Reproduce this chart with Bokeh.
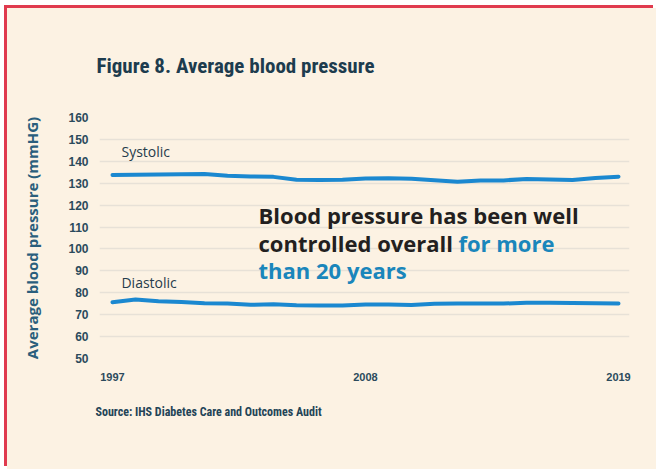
from bokeh.plotting import figure
from bokeh.models import Range1d, FixedTicker, Label, Title
from bokeh.embed import file_html
from bokeh.resources import INLINE

# ---- data ----
years = list(range(1997, 2020))
systolic = [133.8, 133.9, 134.0, 134.1, 134.2, 133.4, 133.1, 132.9, 131.6, 131.5,
            131.6, 132.2, 132.3, 132.0, 131.4, 130.7, 131.2, 131.3, 131.9, 131.7,
            131.5, 132.4, 133.0]
diastolic = [75.7, 76.9, 76.1, 75.8, 75.2, 75.1, 74.5, 74.8, 74.3, 74.2,
             74.2, 74.7, 74.7, 74.4, 75.0, 75.1, 75.1, 75.1, 75.4, 75.4,
             75.3, 75.2, 75.1]
y_ticks = list(range(50, 161, 10))
x_ticks = [1997, 2008, 2019]

title_text = "Figure 8. Average blood pressure"
source_text = "Source: IHS Diabetes Care and Outcomes Audit"
y_label = "Average blood pressure (mmHG)"

BG = "#FCF2E3"
LINE = "#1B88D0"
BLUE_TXT = "#1A86BB"
COND = "'Liberation Sans Narrow', 'Roboto Condensed', Roboto, sans-serif"
OPEN = "Open Sans"

p = figure(width=649, height=461, output_backend="svg", toolbar_location=None,
           x_range=Range1d(1996.435, 2019.478), y_range=Range1d(50, 160),
           min_border_left=92, min_border_right=27, min_border_top=109,
           min_border_bottom=111)
p.styles = {"margin-left": "7px", "margin-top": "8px",
            "width": "649px", "max-width": "649px", "height": "461px",
            "box-shadow": "-3px -3px 0 0 #E03A4E", "background-color": BG}

p.background_fill_color = BG
p.border_fill_color = BG
p.outline_line_color = None

p.title.text = title_text
p.title.align = "left"
p.title.offset = -3
p.title.standoff = 80
p.title.text_font = COND
p.title.text_font_size = "21px"
p.title.text_font_style = "bold"
p.title.text_color = "#1D3C4E"

p.add_layout(Title(text=source_text, align="left", offset=-4, standoff=39,
                   text_font=COND, text_font_size="12px", text_font_style="bold",
                   text_color="#234457"), "below")

p.xgrid.grid_line_color = None
p.ygrid.grid_line_color = "#E7E1D7"
p.ygrid.grid_line_width = 1.5
p.ygrid.ticker = FixedTicker(ticks=y_ticks)

p.yaxis.ticker = FixedTicker(ticks=y_ticks)
p.xaxis.ticker = FixedTicker(ticks=x_ticks)
for ax in (p.xaxis[0], p.yaxis[0]):
    ax.axis_line_color = None
    ax.major_tick_line_color = None
    ax.minor_tick_line_color = None
    ax.major_label_text_font = "Liberation Sans"
    ax.major_label_text_font_style = "bold"
    ax.major_label_text_color = "#2B4A5C"
p.yaxis.major_label_text_font_size = "12px"
p.yaxis.major_label_standoff = 5
p.xaxis.major_label_text_font_size = "11px"
p.xaxis.major_label_standoff = 8

p.yaxis.axis_label = y_label
p.yaxis.axis_label_text_font = OPEN
p.yaxis.axis_label_text_font_style = "bold"
p.yaxis.axis_label_text_font_size = "15px"
p.yaxis.axis_label_text_color = "#2A5E7C"
p.yaxis.axis_label_standoff = 23

p.line(years, systolic, line_width=4, color=LINE, line_join="round", line_cap="round")
p.line(years, diastolic, line_width=4, color=LINE, line_join="round", line_cap="round")

def lab(x, y, text, font, size, color, style="normal", baseline="middle"):
    p.add_layout(Label(x=x, y=y, text=text, text_font=font, text_font_size=size,
                       text_color=color, text_font_style=style,
                       text_baseline=baseline, text_align="left"))

lab(1997.39, 144.5, "Systolic", OPEN, "14px", "#263C4C")
lab(1997.39, 84.7, "Diastolic", OPEN, "14px", "#263C4C")
lab(2003.35, 115.3, "Blood pressure has been well", OPEN, "22px", "#231F20", "bold")
lab(2003.35, 102.5, "controlled overall", OPEN, "22px", "#231F20", "bold")
lab(2012.04, 102.5, "for more", OPEN, "22px", BLUE_TXT, "bold")
lab(2003.35, 90.2, "than 20 years", OPEN, "22px", BLUE_TXT, "bold")

open("out.html", "w").write(file_html(p, INLINE))
